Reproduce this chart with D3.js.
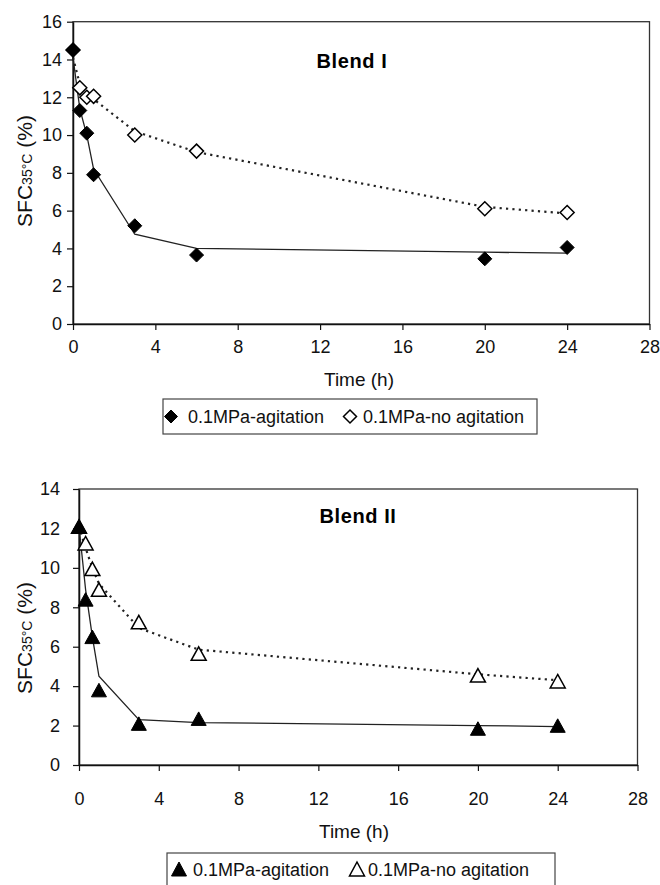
<!DOCTYPE html>
<html>
<head>
<meta charset="utf-8">
<script src="https://cdn.jsdelivr.net/npm/d3@7"></script>
<style>
  html, body { margin: 0; padding: 0; background: #fff; }
  svg { display: block; font-family: Arial, "Liberation Sans", Helvetica, sans-serif; }
</style>
</head>
<body>
<svg id="chart" width="660" height="885"></svg>
<script>
// ---- data ----
const times = [0, 0.33, 0.67, 1, 3, 6, 20, 24];
const xTicks = [0, 4, 8, 12, 16, 20, 24, 28];

const blend1Agitation      = [14.5, 11.3, 10.1, 7.9, 5.2, 3.65, 3.45, 4.05];
const blend1NoAgitation    = [14.5, 12.5, 12.0, 12.05, 10.0, 9.15, 6.1, 5.9];
const blend1FitAgitation   = [14.1, 11.4, 10.0, 8.2, 4.75, 4.0, 3.8, 3.75];
const blend1FitNoAgitation = [14.1, 12.7, 12.2, 11.9, 10.2, 9.1, 6.2, 5.85];
const blend1YTicks = [0, 2, 4, 6, 8, 10, 12, 14, 16];

const blend2Agitation      = [12.1, 8.4, 6.5, 3.8, 2.1, 2.35, 1.85, 2.0];
const blend2NoAgitation    = [12.1, 11.25, 9.95, 8.9, 7.25, 5.65, 4.55, 4.25];
const blend2FitAgitation   = [12.1, 8.9, 6.5, 4.5, 2.3, 2.15, 2.0, 1.95];
const blend2FitNoAgitation = [12.1, 11.0, 10.0, 9.2, 6.95, 5.85, 4.6, 4.3];
const blend2YTicks = [0, 2, 4, 6, 8, 10, 12, 14];

const seriesNames = ["0.1MPa-agitation", "0.1MPa-no agitation"];

// ---- drawing ----
const svg = d3.select("#chart");

function diamondPath(s) { // square diamond, s = half diagonal
  return `M0,${-s}L${s},0L0,${s}L${-s},0Z`;
}
function trianglePath(w, h) {
  return `M0,${-h/2}L${w/2},${h/2}L${-w/2},${h/2}Z`;
}

function drawPanel(cfg) {
  const x = d3.scaleLinear().domain([0, 28]).range([cfg.left, cfg.right]);
  const y = d3.scaleLinear().domain([0, cfg.ymax]).range([cfg.bottom, cfg.top]);
  const g = svg.append("g");

  // frame
  g.append("rect")
    .attr("x", cfg.left).attr("y", cfg.top)
    .attr("width", cfg.right - cfg.left).attr("height", cfg.bottom - cfg.top)
    .attr("fill", "none").attr("stroke", "#333").attr("stroke-width", 1.3);

  const xa = g.append("g").attr("transform", `translate(0,${cfg.bottom})`)
    .call(d3.axisBottom(x).tickValues(xTicks).tickSize(6).tickSizeOuter(0).tickPadding(cfg.xPad).tickFormat(d3.format("d")));
  const ya = g.append("g").attr("transform", `translate(${cfg.left},0)`)
    .call(d3.axisLeft(y).tickValues(cfg.yTicks).tickSize(6).tickSizeOuter(0).tickPadding(cfg.yPad).tickFormat(d3.format("d")));
  [xa, ya].forEach(a => {
    a.selectAll("path.domain").attr("stroke", "#111").attr("stroke-width", 1.5);
    a.selectAll(".tick line").attr("stroke", "#111").attr("stroke-width", 1.2);
    a.selectAll(".tick text").attr("fill", "#111").style("font-size", "18px")
      .style("font-family", "Arial, 'Liberation Sans', sans-serif");
  });

  // fitted lines
  const line = d3.line().x(d => x(d[0])).y(d => y(d[1]));
  g.append("path")
    .attr("d", line(times.map((t, i) => [t, cfg.fitNo[i]])))
    .attr("fill", "none").attr("stroke", "#222").attr("stroke-width", 2.2)
    .attr("stroke-dasharray", "2.2,4.2");
  g.append("path")
    .attr("d", line(times.map((t, i) => [t, cfg.fitAg[i]])))
    .attr("fill", "none").attr("stroke", "#222").attr("stroke-width", 1.3);

  // markers
  const markerPath = cfg.shape === "diamond" ? diamondPath(7) : trianglePath(15, 13.5);
  g.selectAll(".mNo").data(times.map((t, i) => [t, cfg.no[i]])).join("path")
    .attr("d", markerPath)
    .attr("transform", d => `translate(${x(d[0])},${y(d[1])})`)
    .attr("fill", "#fff").attr("stroke", "#000").attr("stroke-width", 1.5);
  g.selectAll(".mAg").data(times.map((t, i) => [t, cfg.ag[i]])).join("path")
    .attr("d", markerPath)
    .attr("transform", d => `translate(${x(d[0])},${y(d[1])})`)
    .attr("fill", "#000").attr("stroke", "#000").attr("stroke-width", 1);

  // title
  g.append("text").attr("x", cfg.titleX).attr("y", cfg.titleY)
    .attr("text-anchor", "middle").style("font-size", "20px").style("font-weight", "bold")
    .style("letter-spacing", "0.6px")
    .attr("fill", "#000").text(cfg.title);

  // x label
  g.append("text").attr("x", cfg.xLabelX).attr("y", cfg.xLabelY)
    .attr("text-anchor", "middle").style("font-size", "19px").attr("fill", "#111").text("Time (h)");

  // y label
  const yl = g.append("text")
    .attr("transform", `translate(${cfg.yLabelX},${cfg.yLabelY}) rotate(-90)`)
    .attr("text-anchor", "middle").style("font-size", "21px").attr("fill", "#111");
  yl.append("tspan").text("SFC");
  yl.append("tspan").style("font-size", "14px").text("35°C");
  yl.append("tspan").text(" (%)");

  // legend
  const L = cfg.legend;
  g.append("rect").attr("x", L.x).attr("y", L.y).attr("width", L.w).attr("height", L.h)
    .attr("fill", "#fff").attr("stroke", "#444").attr("stroke-width", 1.2);
  const legendPath = cfg.shape === "diamond" ? diamondPath(6.5) : trianglePath(15, 14);
  g.append("path").attr("d", legendPath).attr("transform", `translate(${L.m1},${L.my})`)
    .attr("fill", "#000").attr("stroke", "#000");
  g.append("path").attr("d", legendPath).attr("transform", `translate(${L.m2},${L.my})`)
    .attr("fill", "#fff").attr("stroke", "#000").attr("stroke-width", 1.5);
  g.append("text").attr("x", L.t1).attr("y", L.ty).style("font-size", "18px").attr("fill", "#111").text(seriesNames[0]);
  g.append("text").attr("x", L.t2).attr("y", L.ty).style("font-size", "18px").attr("fill", "#111").text(seriesNames[1]);
}

drawPanel({
  left: 73, right: 649.5, top: 21.7, bottom: 324, ymax: 16, yTicks: blend1YTicks,
  xPad: 10, yPad: 5,
  ag: blend1Agitation, no: blend1NoAgitation, fitAg: blend1FitAgitation, fitNo: blend1FitNoAgitation,
  shape: "diamond", title: "Blend I", titleX: 352, titleY: 68,
  xLabelX: 359, xLabelY: 386, yLabelX: 32, yLabelY: 171,
  legend: { x: 163, y: 399, w: 374, h: 35, m1: 171, m2: 350, my: 416.5, t1: 188, t2: 363, ty: 423 }
});

drawPanel({
  left: 79, right: 637.5, top: 489, bottom: 765, ymax: 14, yTicks: blend2YTicks,
  xPad: 21, yPad: 13,
  ag: blend2Agitation, no: blend2NoAgitation, fitAg: blend2FitAgitation, fitNo: blend2FitNoAgitation,
  shape: "triangle", title: "Blend II", titleX: 358, titleY: 523,
  xLabelX: 354, xLabelY: 838, yLabelX: 32, yLabelY: 638,
  legend: { x: 167, y: 853, w: 388, h: 36, m1: 179, m2: 357, my: 869, t1: 193, t2: 368, ty: 876 }
});
</script>
</body>
</html>
